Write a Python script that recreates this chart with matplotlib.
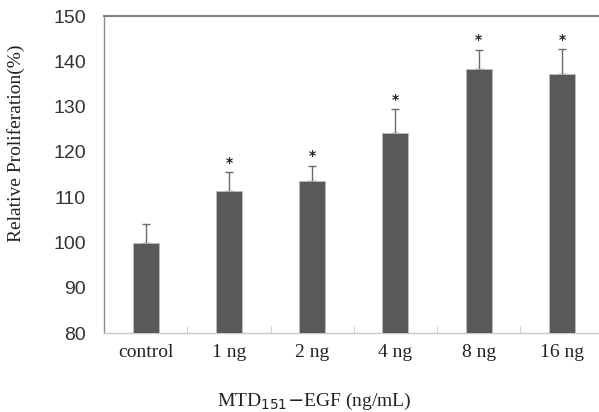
import numpy as np
import matplotlib
matplotlib.use("Agg")
import matplotlib.pyplot as plt

# values
categories = ['control', '1 ng', '2 ng', '4 ng', '8 ng', '16 ng']
means = [99.8, 111.3, 113.6, 124.2, 138.3, 137.3]
errors = [4.3, 4.2, 3.4, 5.2, 4.3, 5.5]
significant = [False, True, True, True, True, True]

fig = plt.figure(figsize=(5.99, 4.12), dpi=100)
ax = fig.add_axes([0.1736, 0.1917, 0.834, 0.769])

x = np.arange(len(categories))
ax.bar(x, means, width=0.31, color='#595959', edgecolor='#bdbdbd', linewidth=0.6, zorder=3)
ax.errorbar(x, means, yerr=[np.zeros(len(errors)), errors], fmt='none',
            ecolor='#6a6a6a', elinewidth=1.0, capsize=3, capthick=1.0, zorder=2)

for xi, m, e, s in zip(x, means, errors, significant):
    if s:
        ax.text(xi, m + e + 0.5, '*', ha='center', va='bottom', fontsize=10,
                color='#222222', family='DejaVu Sans', fontweight='bold')

ax.set_xlim(-0.5, len(categories) - 0.5)
ax.set_ylim(80, 150)
ax.set_yticks(np.arange(80, 151, 10))
ax.set_xticks(x)
ax.set_xticklabels(categories, family='Liberation Serif', fontsize=14, color='#222222')
ax.set_xticks(np.arange(0.5, len(categories) - 0.5, 1), minor=True)
ax.tick_params(axis='x', which='major', length=0, pad=8)
ax.tick_params(axis='x', which='minor', length=5, direction='in', color='#c8c8c8')
ax.tick_params(axis='y', length=0, pad=13, labelsize=14, labelcolor='#333333')
for lab in ax.get_yticklabels():
    lab.set_family('Liberation Sans')

ax.spines['right'].set_visible(False)
ax.spines['top'].set_color('#808080')
ax.spines['top'].set_linewidth(1.5)
ax.spines['left'].set_color('#8c8c8c')
ax.spines['left'].set_linewidth(1.0)
ax.spines['bottom'].set_color('#c8c8c8')
ax.spines['bottom'].set_linewidth(1.0)

ax.set_ylabel('Relative Proliferation(%)', family='Liberation Serif', fontsize=14,
              color='#222222')
ax.yaxis.set_label_coords(-0.158, 0.60)
fig.text(0.524, 0.025, r'MTD$_{151}$$-$EGF (ng/mL)', ha='center', va='center',
         family='Liberation Serif', fontsize=14, color='#222222')

fig.savefig('out.png', dpi=100)
